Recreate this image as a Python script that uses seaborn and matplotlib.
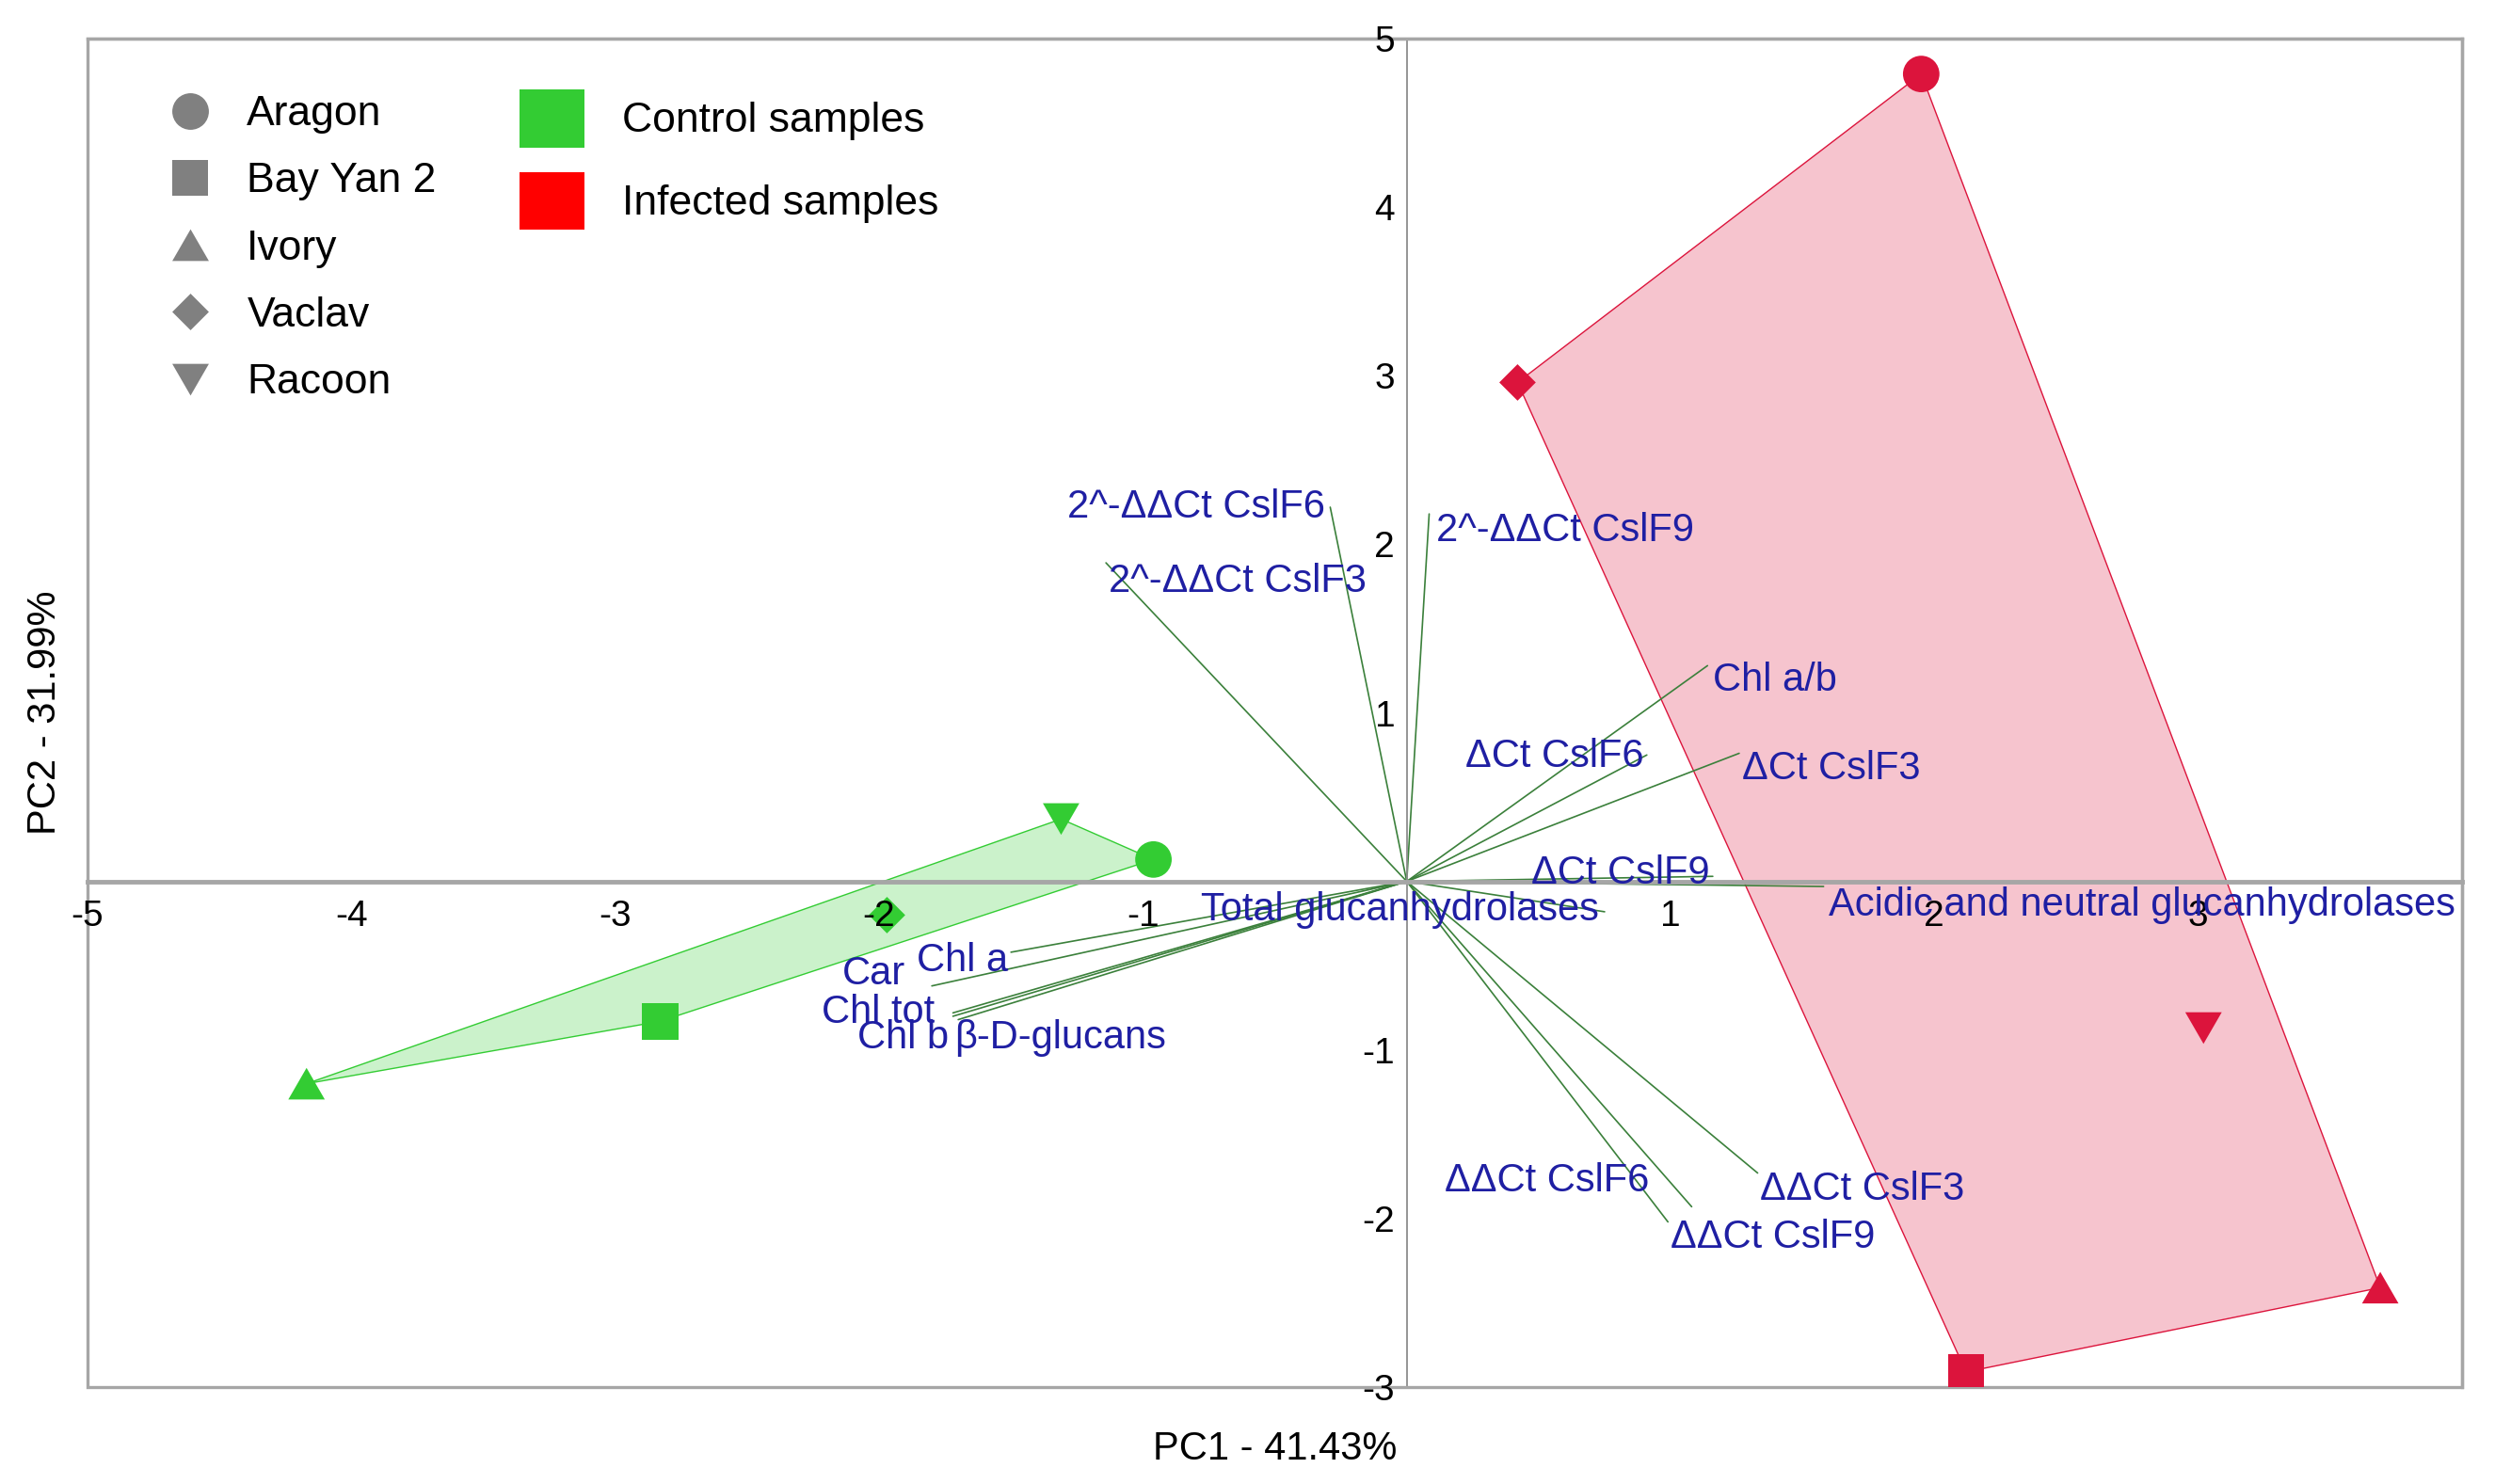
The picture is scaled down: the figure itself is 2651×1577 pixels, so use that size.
import numpy as np
import pandas as pd
import matplotlib
matplotlib.use('Agg')
import matplotlib.pyplot as plt
import seaborn as sns
from matplotlib.lines import Line2D
from matplotlib.patches import Patch, Rectangle
from matplotlib.colors import to_rgba

# %% data
varieties = ['Aragon', 'Bay Yan 2', 'Ivory', 'Vaclav', 'Racoon']
control_pc1 = [-0.96, -2.83, -4.17, -1.97, -1.31]
control_pc2 = [0.13, -0.83, -1.20, -0.20, 0.37]
infected_pc1 = [1.95, 2.12, 3.69, 0.42, 3.02]
infected_pc2 = [4.79, -2.91, -2.41, 2.96, -0.87]

variables = ['2^-ΔΔCt CslF6', '2^-ΔΔCt CslF9', '2^-ΔΔCt CslF3', 'Chl a/b',
             'ΔCt CslF3', 'ΔCt CslF6', 'ΔCt CslF9',
             'Acidic and neutral glucanhydrolases', 'Total glucanhydrolases',
             'Chl a', 'Car', 'Chl tot', 'Chl b', 'β-D-glucans',
             'ΔΔCt CslF6', 'ΔΔCt CslF3', 'ΔΔCt CslF9']
load_pc1 = [-0.29, 0.085, -1.14, 1.14, 1.26, 0.91, 1.16, 1.58, 0.75,
            -1.50, -1.80, -1.72, -1.72, -1.70, 1.08, 1.33, 0.99]
load_pc2 = [2.22, 2.18, 1.89, 1.28, 0.76, 0.75, 0.03, -0.03, -0.18,
            -0.42, -0.62, -0.78, -0.80, -0.82, -1.93, -1.73, -2.02]

x_ticks = [-5, -4, -3, -2, -1, 1, 2, 3]
y_ticks = [-3, -2, -1, 1, 2, 3, 4, 5]

# label placement (layout only): x, y, horizontal alignment
label_pos = {
    '2^-ΔΔCt CslF6': (-0.31, 2.22, 'right'),
    '2^-ΔΔCt CslF9': (0.11, 2.08, 'left'),
    '2^-ΔΔCt CslF3': (-1.13, 1.78, 'left'),
    'Chl a/b': (1.16, 1.19, 'left'),
    'ΔCt CslF3': (1.27, 0.67, 'left'),
    'ΔCt CslF6': (0.90, 0.74, 'right'),
    'ΔCt CslF9': (1.15, 0.05, 'right'),
    'Acidic and neutral glucanhydrolases': (1.60, -0.14, 'left'),
    'Total glucanhydrolases': (0.73, -0.17, 'right'),
    'Chl a': (-1.51, -0.47, 'right'),
    'Car': (-1.90, -0.55, 'right'),
    'Chl tot': (-1.79, -0.78, 'right'),
    'Chl b': (-1.735, -0.93, 'right'),
    'β-D-glucans': (-1.715, -0.93, 'left'),
    'ΔΔCt CslF6': (0.92, -1.78, 'right'),
    'ΔΔCt CslF3': (1.34, -1.83, 'left'),
    'ΔΔCt CslF9': (1.00, -2.11, 'left'),
}

df = pd.DataFrame({
    'PC1': control_pc1 + infected_pc1,
    'PC2': control_pc2 + infected_pc2,
    'variety': varieties * 2,
    'group': ['Control samples'] * 5 + ['Infected samples'] * 5,
})


def hull(xs, ys):
    pts = sorted(zip(xs, ys))

    def cross(o, a, b):
        return (a[0]-o[0])*(b[1]-o[1]) - (a[1]-o[1])*(b[0]-o[0])
    lower, upper = [], []
    for p in pts:
        while len(lower) >= 2 and cross(lower[-2], lower[-1], p) <= 0:
            lower.pop()
        lower.append(p)
    for p in reversed(pts):
        while len(upper) >= 2 and cross(upper[-2], upper[-1], p) <= 0:
            upper.pop()
        upper.append(p)
    h = lower[:-1] + upper[:-1]
    return [p[0] for p in h], [p[1] for p in h]


# %% plot
sns.set_style('white')
plt.rcParams['font.family'] = ['Liberation Sans', 'DejaVu Sans']
plt.rcParams.update({'text.color': 'black', 'axes.labelcolor': 'black',
                     'xtick.labelcolor': 'black', 'ytick.labelcolor': 'black'})

green = '#33cc33'
red = '#dc143c'
grey = '#a6a6a6'
blue = '#1f1fa3'

tri_up = [(-1, -0.866), (1, -0.866), (0, 0.866)]
tri_down = [(-1, 0.866), (1, 0.866), (0, -0.866)]
diamond = [(0, 1), (1, 0), (0, -1), (-1, 0)]
markers = {'Aragon': 'o', 'Bay Yan 2': 's', 'Ivory': tri_up,
           'Vaclav': diamond, 'Racoon': tri_down}

fig = plt.figure(figsize=(26.51, 15.77), dpi=100)
ax = fig.add_axes([0.0351, 0.0653, 0.9517, 0.9087])

for grp, col in [('Control samples', green), ('Infected samples', red)]:
    sub = df[df.group == grp]
    hx, hy = hull(sub.PC1, sub.PC2)
    ax.fill(hx, hy, facecolor=to_rgba(col, 0.25), edgecolor=col, lw=1.0, zorder=1)

for name, lx, ly in zip(variables, load_pc1, load_pc2):
    ax.plot([0, lx], [0, ly], color='#3b803b', lw=1.2, zorder=2)
    tx, ty, ha = label_pos[name]
    ax.text(tx, ty, name, color=blue, fontsize=30, ha=ha, va='center', zorder=5)

sns.scatterplot(data=df, x='PC1', y='PC2', hue='group', style='variety',
                palette={'Control samples': green, 'Infected samples': red},
                markers=markers, s=780, linewidth=0, legend=False, ax=ax, zorder=4)

ax.set_xlim(-5, 4)
ax.set_ylim(-3, 5)
ax.spines['left'].set_position(('data', 0))
ax.spines['bottom'].set_position(('data', 0))
ax.spines['bottom'].set_linewidth(3.5)
ax.spines['bottom'].set_color(grey)
ax.spines['left'].set_linewidth(1.3)
ax.spines['left'].set_color('#8c8c8c')
for s in ['top', 'right']:
    ax.spines[s].set_linewidth(2.4)
    ax.spines[s].set_color(grey)
ax.add_patch(Rectangle((0, 0), 1, 1, transform=ax.transAxes, fill=False,
                       lw=2.4, ec=grey, clip_on=False, zorder=3))

ax.set_xticks(x_ticks)
ax.set_yticks(y_ticks)
ax.set_xticklabels([str(t) for t in x_ticks])
ax.set_yticklabels([str(t) for t in y_ticks])
ax.tick_params(axis='both', direction='out', length=6, width=1, color='#8c8c8c',
               labelsize=28, labelcolor='black')
ax.tick_params(axis='x', pad=8)
ax.tick_params(axis='y', pad=3)
ax.xaxis.set_zorder(4.5)
ax.yaxis.set_zorder(4.5)

ax.set_xlabel('PC1 - 41.43%', fontsize=30)
ax.set_ylabel('PC2 - 31.99%', fontsize=30)
ax.xaxis.set_label_coords(0.5, -0.032)
ax.yaxis.set_label_coords(-0.010, 0.5)

# legends
var_handles = [Line2D([], [], ls='', marker=markers[v], color='#808080',
                      markersize=28, markeredgewidth=0) for v in varieties]
leg1 = ax.legend(var_handles, varieties, loc='upper left', bbox_to_anchor=(0.0345, 0.958),
                 frameon=False, fontsize=32, handlelength=1.0, handletextpad=0.85,
                 labelspacing=0.68, borderpad=0, borderaxespad=0)
ax.add_artist(leg1)
grp_handles = [Patch(facecolor=green, edgecolor='none'), Patch(facecolor='#ff0000', edgecolor='none')]
ax.legend(grp_handles, ['Control samples', 'Infected samples'], loc='upper left',
          bbox_to_anchor=(0.182, 0.962), frameon=False, fontsize=32,
          handlelength=1.55, handleheight=1.74, handletextpad=0.9,
          labelspacing=0.6, borderpad=0, borderaxespad=0)

fig.savefig('out.png', dpi=100)
